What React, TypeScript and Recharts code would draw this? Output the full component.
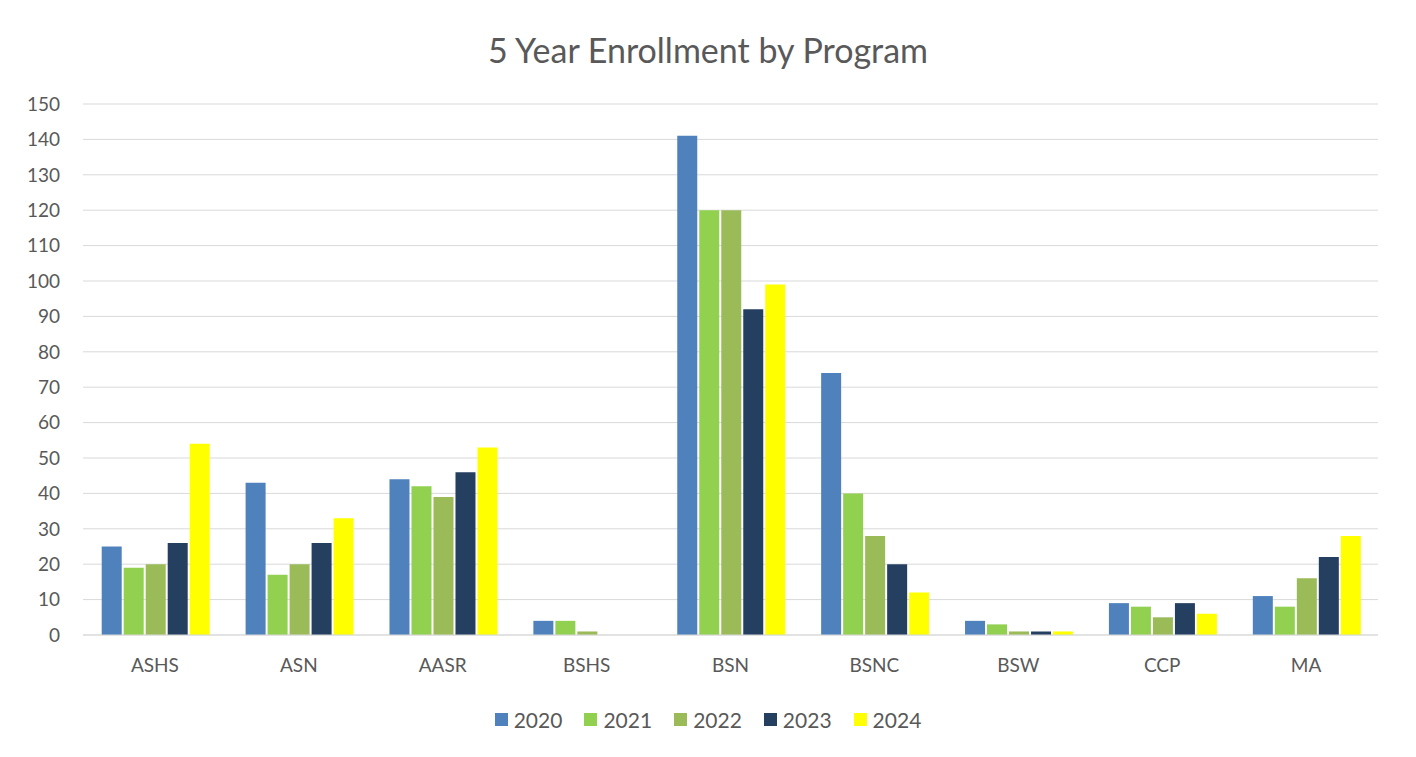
import React from 'react';
import { BarChart, Bar, XAxis, YAxis, CartesianGrid, Legend } from 'recharts';

const programs = ['ASHS', 'ASN', 'AASR', 'BSHS', 'BSN', 'BSNC', 'BSW', 'CCP', 'MA'];
const y2020 = [25, 43, 44, 4, 141, 74, 4, 9, 11];
const y2021 = [19, 17, 42, 4, 120, 40, 3, 8, 8];
const y2022 = [20, 20, 39, 1, 120, 28, 1, 5, 16];
const y2023 = [26, 26, 46, 0, 92, 20, 1, 9, 22];
const y2024 = [54, 33, 53, 0, 99, 12, 1, 6, 28];
const yTicks = [0, 10, 20, 30, 40, 50, 60, 70, 80, 90, 100, 110, 120, 130, 140, 150];

const series = [
  { key: '2020', color: '#4F81BD' },
  { key: '2021', color: '#92D050' },
  { key: '2022', color: '#9BBB59' },
  { key: '2023', color: '#243F60' },
  { key: '2024', color: '#FFFF00' },
];

const data = programs.map((p, i) => ({
  name: p,
  '2020': y2020[i],
  '2021': y2021[i],
  '2022': y2022[i],
  '2023': y2023[i],
  '2024': y2024[i],
}));

const FONT = 'Lato, "Open Sans", sans-serif';
const TEXT = '#595959';

const renderLegend = (props: any) => {
  const { payload } = props;
  return (
    <div style={{ display: 'flex', justifyContent: 'center', gap: 22, fontFamily: FONT, fontSize: 21, color: TEXT, height: 26, alignItems: 'center' }}>
      {payload.map((entry: any) => (
        <div key={entry.value} style={{ display: 'flex', alignItems: 'center' }}>
          <span style={{ display: 'inline-block', width: 13, height: 13, background: entry.color, marginRight: 6 }} />
          <span>{entry.value}</span>
        </div>
      ))}
    </div>
  );
};

export default function App() {
  return (
    <div
      style={{
        position: 'relative',
        width: 1402,
        height: 762,
        border: '1px solid #d9d9d9',
        boxSizing: 'border-box',
        marginTop: -2,
        marginLeft: -1,
        background: '#fff',
      }}
    >
      <div
        style={{
          position: 'absolute',
          top: 22,
          left: 0,
          width: '100%',
          textAlign: 'center',
          fontFamily: FONT,
          fontSize: 34,
          color: TEXT,
        }}
      >
        5 Year Enrollment by Program
      </div>
      <BarChart
        width={1400}
        height={758}
        data={data}
        margin={{ top: 97, right: 30, bottom: 60, left: 0 }}
        barCategoryGap="13%"
        barGap={2}
      >
        <CartesianGrid vertical={false} stroke="#d9d9d9" />
        <XAxis
          dataKey="name"
          tickLine={false}
          axisLine={{ stroke: '#d9d9d9' }}
          tick={{ fill: TEXT, fontSize: 19, fontFamily: FONT }}
          tickMargin={24}
          tickSize={0}
          height={40}
        />
        <YAxis
          domain={[0, 150]}
          ticks={yTicks}
          interval={0}
          axisLine={false}
          tickLine={false}
          tickSize={0}
          tickMargin={23}
          width={75}
          tick={{ fill: TEXT, fontSize: 19, fontFamily: FONT }}
        />
        <Legend
          verticalAlign="bottom"
          height={30}
          content={renderLegend}
          wrapperStyle={{ position: 'absolute', top: 699, left: 0, width: 1400 }}
        />
        {series.map((s) => (
          <Bar key={s.key} dataKey={s.key} fill={s.color} isAnimationActive={false} />
        ))}
      </BarChart>
    </div>
  );
}
